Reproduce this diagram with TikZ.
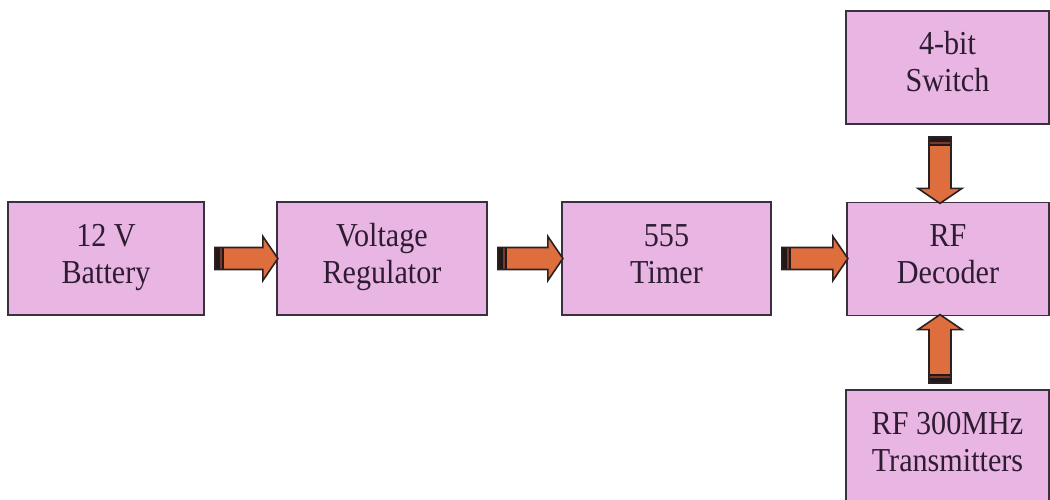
\documentclass[tikz,border=0pt]{standalone}
\usepackage{fontspec}
\setmainfont{Liberation Serif}[FakeStretch=0.9]
\usetikzlibrary{calc}
\definecolor{boxfill}{HTML}{E9B6E4}
\definecolor{boxline}{HTML}{3A3040}
\definecolor{txt}{HTML}{2E1C33}
\definecolor{arrowfill}{HTML}{DF6E3E}
\definecolor{arrowline}{HTML}{2A2222}
\definecolor{taildark}{HTML}{231818}
\definecolor{tailstripe}{HTML}{7A3A2A}
\begin{document}
\begin{tikzpicture}[x=1pt,y=-1pt,
  box/.style={draw=boxline, line width=1.8pt, fill=boxfill, minimum width=#1,
    minimum height=113pt, inner sep=0pt, align=center,
    text height=60pt, text depth=11pt,
    font=\fontsize{33.5}{37}\selectfont, text=txt},
  pics/barrow/.style={code={
    \fill[arrowfill] (0,-11) -- (#1-15,-11) -- (#1-15,-22) -- (#1,0) -- (#1-15,22) -- (#1-15,11) -- (0,11) -- cycle;
    \fill[taildark] (0,-11) rectangle (9,11);
    \fill[tailstripe] (5,-11) rectangle (6.8,11);
    \draw[arrowline, line width=1.6pt, line join=miter] (0,-11) -- (#1-15,-11) -- (#1-15,-22) -- (#1,0) -- (#1-15,22) -- (#1-15,11) -- (0,11) -- cycle;
  }}]
\useasboundingbox[fill=white] (0,0) rectangle (1050,500);

\node[box=196pt] (bat) at (106,258.5) {12 V\\Battery};
\node[box=210pt] (vr)  at (382,258.5) {Voltage\\Regulator};
\node[box=209pt] (tim) at (666.5,258.5) {555\\Timer};
\node[box=202pt] (dec) at (948,259) {RF\\Decoder};
\node[box=203pt] (sw)  at (947.5,67.5) {4-bit\\Switch};
\node[box=203pt] (tx)  at (947.5,446.5) {RF 300MHz\\Transmitters};

\pic at ($(bat.east)+(10,0)$) {barrow=63};
\pic at ($(vr.east)+(10,0)$) {barrow=65};
\pic at ($(tim.east)+(10,0)$) {barrow=66};
\pic[rotate=-90] at ($(sw.south)+(-7.5,12)$) {barrow=66.5};
\pic[rotate=90] at ($(tx.north)+(-7.5,-6)$) {barrow=68.5};
\end{tikzpicture}
\end{document}
